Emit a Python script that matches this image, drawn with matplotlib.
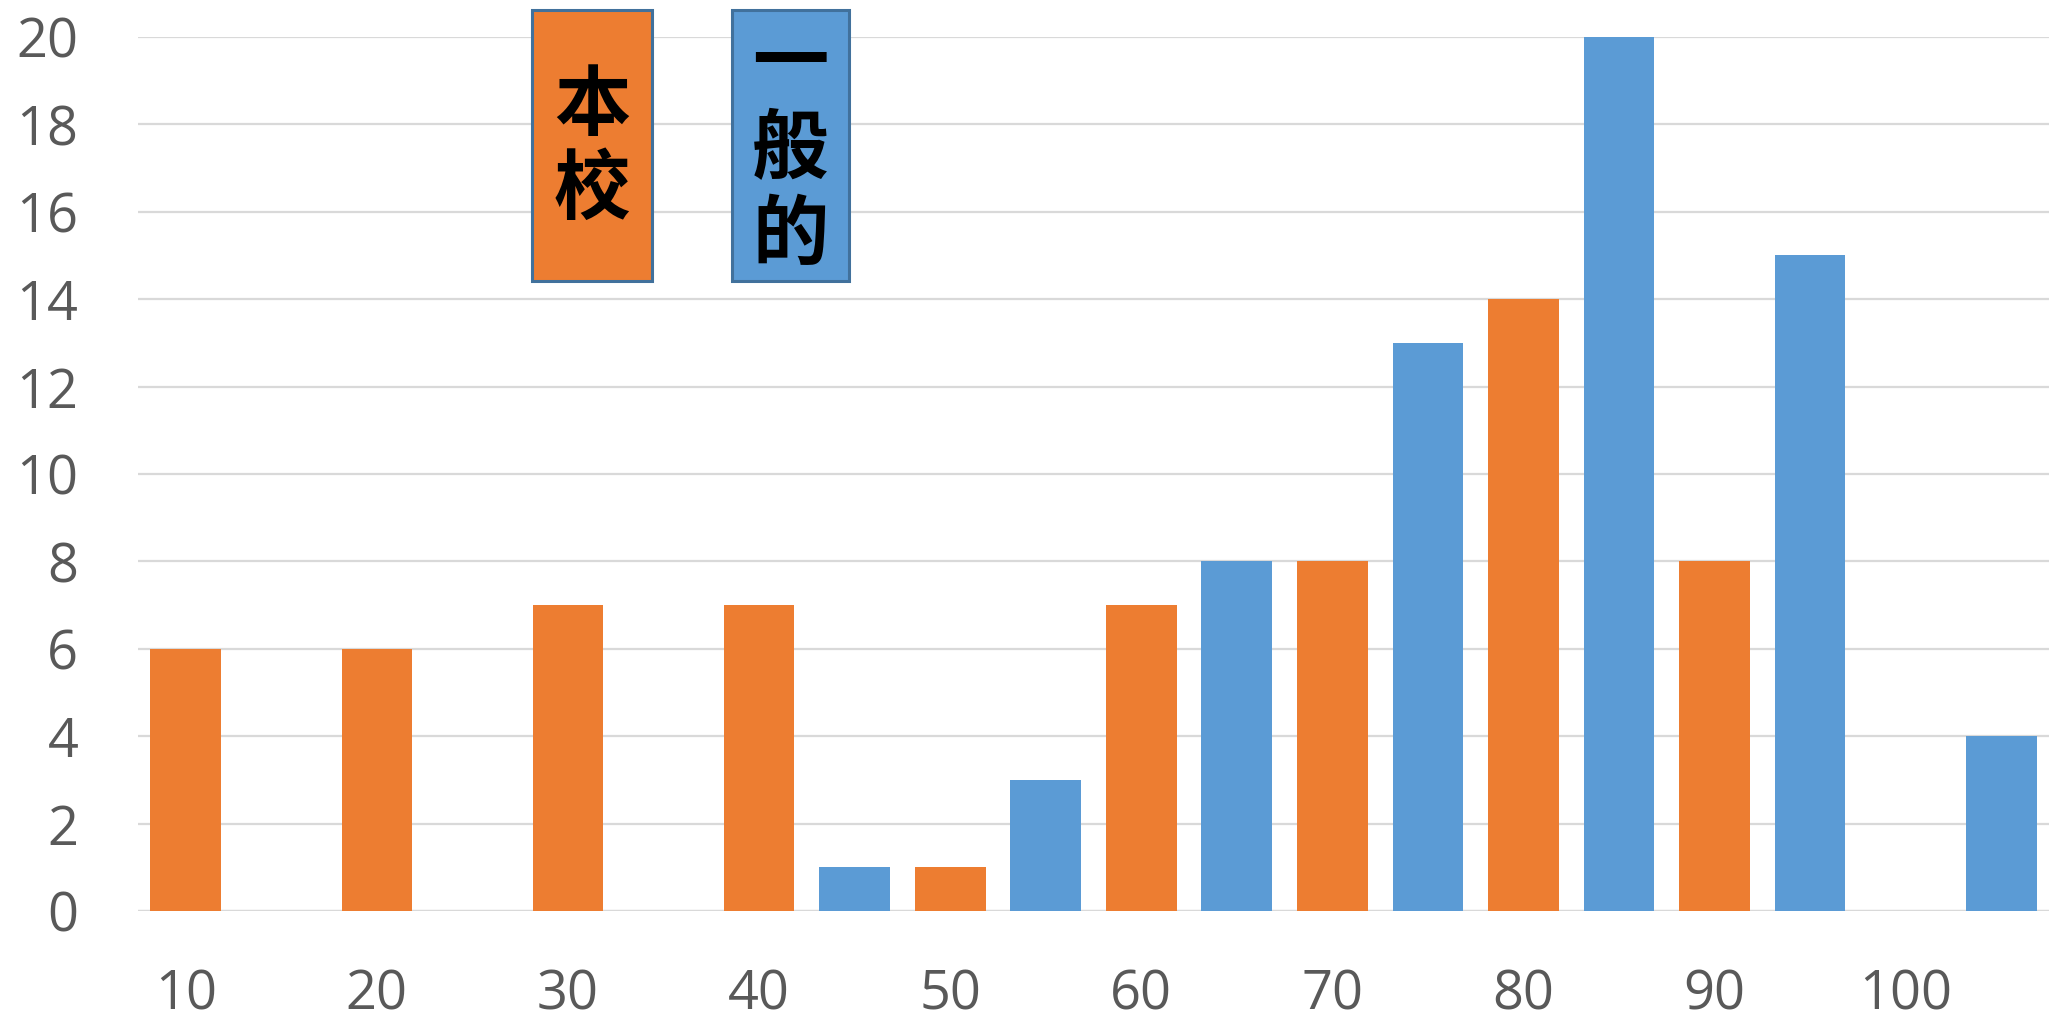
import matplotlib
matplotlib.use("Agg")
import matplotlib.pyplot as plt
from matplotlib.patches import Rectangle
import numpy as np

# Score bins (every 5 points); only multiples of 10 carry a label
bins = [10, 15, 20, 25, 30, 35, 40, 45, 50, 55, 60, 65, 70, 75, 80, 85, 90, 95, 100, 105]
tick_labels = ['10', '', '20', '', '30', '', '40', '', '50', '', '60', '', '70', '', '80', '', '90', '', '100', '']

# 本校 counts (orange) and 一般的 counts (blue); None = no bar in that bin
school = [6, None, 6, None, 7, None, 7, None, 1, None, 7, None, 8, None, 14, None, 8, None, None, None]
general = [None, None, None, None, None, None, None, 1, None, 3, None, 8, None, 13, None, 20, None, 15, None, 4]

series_names = ['本校', '一般的']
orange = '#ED7D31'
blue = '#5B9BD5'
grid_col = '#D9D9D9'
text_col = '#595959'

W, H = 2056, 1019
fig = plt.figure(figsize=(W / 100, H / 100), dpi=100)
ax = fig.add_axes([138 / W, (H - 911) / H, (2049 - 138) / W, (911 - 37) / H])

x = np.arange(len(bins))
s_vals = np.array([np.nan if v is None else v for v in school], dtype=float)
g_vals = np.array([np.nan if v is None else v for v in general], dtype=float)
ax.bar(x, s_vals, width=0.74, color=orange, zorder=3)
ax.bar(x, g_vals, width=0.74, color=blue, zorder=3)

ax.set_xlim(-0.5, len(bins) - 0.5)
ax.set_ylim(0, 20)
ax.set_yticks(np.arange(0, 21, 2))
ax.set_xticks(x)
ax.set_xticklabels(tick_labels)
ax.yaxis.grid(True, color=grid_col, linewidth=1.6, zorder=0)
ax.set_axisbelow(True)
for sp in ax.spines.values():
    sp.set_visible(False)
ax.tick_params(axis='both', length=0, colors=text_col, labelsize=39)
ax.tick_params(axis='y', pad=43)
ax.tick_params(axis='x', pad=41)
for lab in ax.get_xticklabels() + ax.get_yticklabels():
    lab.set_fontfamily(['Open Sans', 'DejaVu Sans'])
ax.axhline(0, color=grid_col, linewidth=1.6, zorder=1)

# Vertical series labels as boxed captions
cjk = ['Noto Sans CJK TC', 'DejaVu Sans']
boxes = [
    (532, 652, orange, series_names[0], 148, 1.1),
    (732, 849, blue, series_names[1], 150, 1.14),
]
for x0, x1, col, name, yc, ls in boxes:
    y_top, y_bot = 10, 281
    rect = Rectangle((x0 / W, (H - y_bot) / H), (x1 - x0) / W, (y_bot - y_top) / H,
                     transform=fig.transFigure, facecolor=col, edgecolor='#41719C',
                     linewidth=2.2, zorder=5)
    fig.patches.append(rect)
    fig.text((x0 + x1) / 2 / W, (H - yc) / H, '\n'.join(name), ha='center', va='center',
             fontsize=55, fontweight='bold', family=cjk, color='black',
             linespacing=ls, zorder=6)

fig.savefig('out.png', dpi=100, facecolor='white')
